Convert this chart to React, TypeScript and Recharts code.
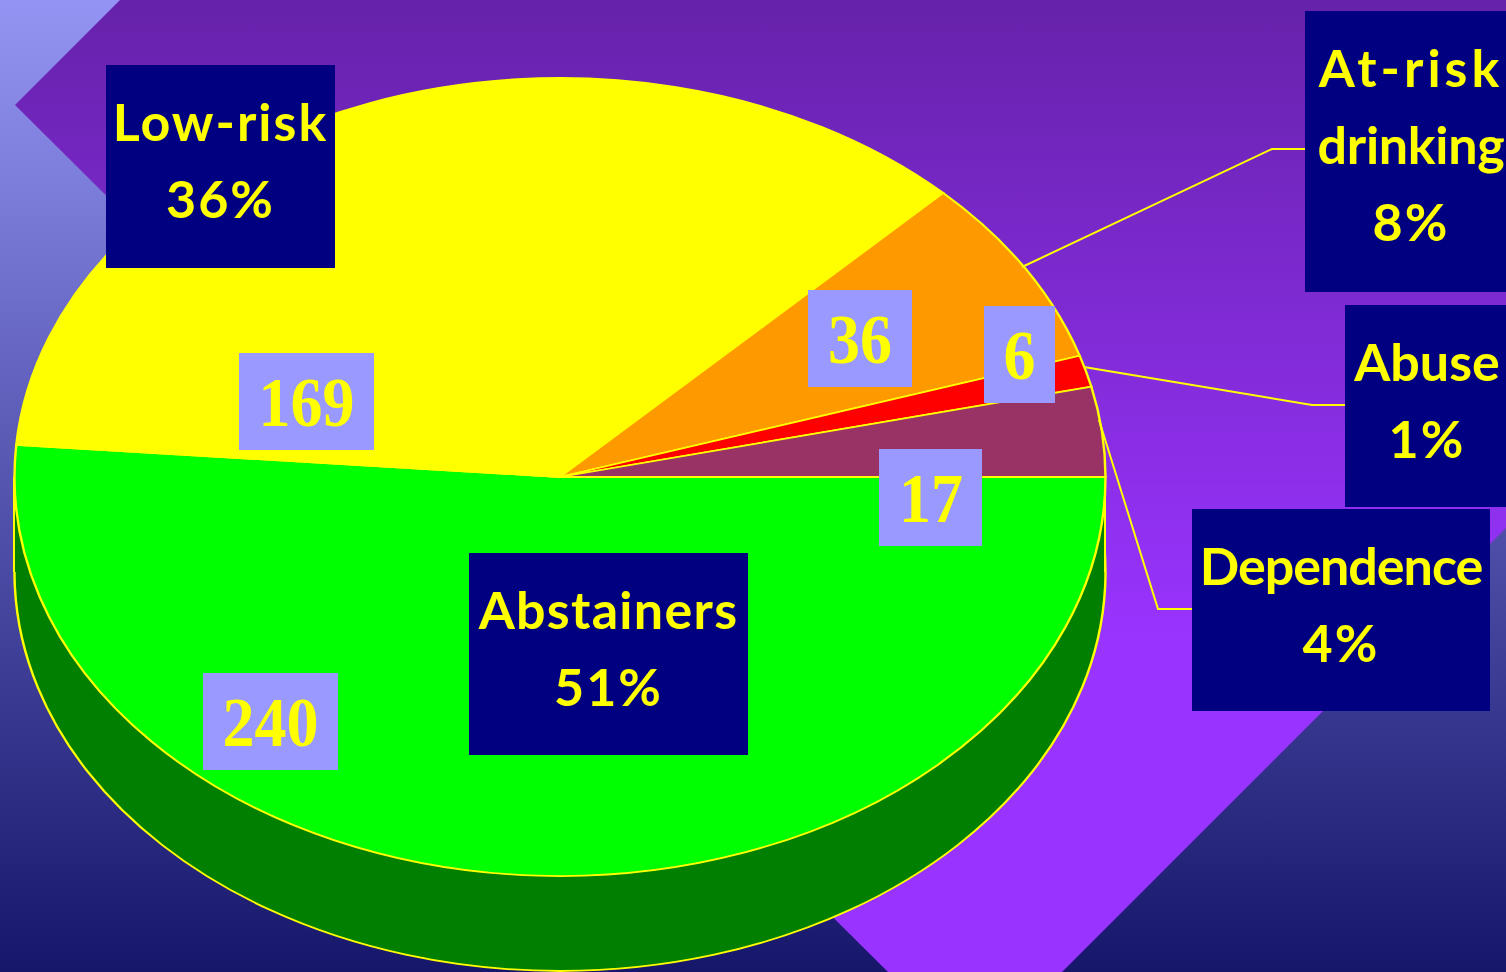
import React from 'react';
import { PieChart, Pie, Cell } from 'recharts';

// slices run clockwise from 3 o'clock
const sliceNames = ['Abstainers', 'Low-risk', 'At-risk', 'Abuse', 'Dependence'];
const sliceCounts = [240, 169, 36, 6, 17];
const sliceColors = ['#00FF00', '#FFFF00', '#FF9900', '#FF0000', '#993366'];
const slicePercents = ['51%', '36%', '8%', '1%', '4%'];

const sliceData = sliceNames.map((name, i) => ({ name, value: sliceCounts[i] }));
const depthData = [{ name: 'depth', value: sliceCounts.reduce((a, b) => a + b, 0) }];

const PIE_X = 559.5;
const PIE_Y = 477;
const RADIUS = 545.5;
const SQUASH = 399 / RADIUS;
const DEPTH = 95;
const CHART_SIZE = 1110;

const labelFont = 'Lato, "Noto Sans", sans-serif';
const countFont = '"Liberation Serif", serif';

const TiltedPie: React.FC<{ offsetY: number; children: React.ReactNode }> = ({ offsetY, children }) => (
  <div
    style={{
      position: 'absolute',
      left: PIE_X - CHART_SIZE / 2,
      top: PIE_Y + offsetY - CHART_SIZE / 2,
      width: CHART_SIZE,
      height: CHART_SIZE,
      transform: `scaleY(${SQUASH})`,
    }}
  >
    {children}
  </div>
);

const NameBox: React.FC<{
  x: number;
  y: number;
  w: number;
  h: number;
  lines: string[];
  spacing: number[];
}> = ({ x, y, w, h, lines, spacing }) => (
  <div
    style={{
      position: 'absolute',
      left: x,
      top: y,
      width: w,
      height: h,
      paddingTop: 18,
      boxSizing: 'border-box',
      background: '#000080',
      color: '#FFFF00',
      fontFamily: labelFont,
      fontWeight: 700,
      fontSize: 52,
      lineHeight: '77px',
      textAlign: 'center',
      whiteSpace: 'nowrap',
    }}
  >
    {lines.map((line, i) => (
      <div key={line} style={{ letterSpacing: spacing[i] }}>
        {line}
      </div>
    ))}
  </div>
);

const CountBox: React.FC<{ x: number; y: number; w: number; value: number }> = ({ x, y, w, value }) => (
  <div
    style={{
      position: 'absolute',
      left: x,
      top: y,
      width: w,
      height: 97,
      background: '#9999FF',
      color: '#FFFF00',
      fontFamily: countFont,
      fontWeight: 700,
      fontSize: 66,
      lineHeight: '97px',
      textAlign: 'center',
    }}
  >
    <span style={{ display: 'inline-block', transform: 'scale(0.97, 1.07)' }}>{value}</span>
  </div>
);

export default function App() {
  return (
    <div
      style={{
        position: 'fixed',
        left: 0,
        top: 0,
        width: 1506,
        height: 972,
        overflow: 'hidden',
        background: 'linear-gradient(to bottom, #9494F4 0%, #16166B 100%)',
      }}
    >
      {/* purple diamond behind the pie */}
      <div
        style={{
          position: 'absolute',
          inset: 0,
          background: 'linear-gradient(to bottom, #6622AA 0px, #9933FF 640px)',
          clipPath: 'polygon(15px 105px, 120px 0, 1506px 0, 1506px 528px, 1062px 972px, 888px 972px)',
        }}
      />

      <TiltedPie offsetY={DEPTH}>
        <PieChart width={CHART_SIZE} height={CHART_SIZE} margin={{ top: 0, right: 0, bottom: 0, left: 0 }}>
          <Pie
            data={depthData}
            dataKey="value"
            cx={CHART_SIZE / 2}
            cy={CHART_SIZE / 2}
            outerRadius={RADIUS}
            startAngle={90}
            endAngle={-270}
            fill="#007F00"
            stroke="#FFFF00"
            strokeWidth={2.4}
            isAnimationActive={false}
          />
        </PieChart>
      </TiltedPie>

      {/* side wall between the top face and the lower rim */}
      <div
        style={{
          position: 'absolute',
          left: PIE_X - RADIUS - 1,
          top: PIE_Y,
          width: RADIUS * 2 + 2,
          height: DEPTH,
          boxSizing: 'border-box',
          background: '#007F00',
          borderLeft: '2px solid #FFFF00',
          borderRight: '2px solid #FFFF00',
        }}
      />

      <TiltedPie offsetY={0}>
        <PieChart width={CHART_SIZE} height={CHART_SIZE} margin={{ top: 0, right: 0, bottom: 0, left: 0 }}>
          <Pie
            data={sliceData}
            dataKey="value"
            cx={CHART_SIZE / 2}
            cy={CHART_SIZE / 2}
            outerRadius={RADIUS}
            startAngle={0}
            endAngle={-360}
            stroke="#FFFF00"
            strokeWidth={2.4}
            isAnimationActive={false}
          >
            {sliceData.map((entry, idx) => (
              <Cell key={entry.name} fill={sliceColors[idx]} />
            ))}
          </Pie>
        </PieChart>
      </TiltedPie>

      {/* leader lines to the outside labels */}
      <svg width={1506} height={972} style={{ position: 'absolute', left: 0, top: 0 }}>
        <g fill="none" stroke="#FFFF00" strokeWidth={2}>
          <polyline points="1022,267 1272,149 1305,149" />
          <polyline points="1084,367 1312,405 1345,405" />
          <polyline points="1099,420 1158,609 1192,609" />
        </g>
      </svg>

      <NameBox x={106} y={65} w={229} h={203} lines={[sliceNames[1], slicePercents[1]]} spacing={[2, 2]} />
      <NameBox x={1305} y={11} w={212} h={281} lines={[sliceNames[2], 'drinking', slicePercents[2]]} spacing={[4, -0.3, 2]} />
      <NameBox x={1345} y={305} w={164} h={202} lines={[sliceNames[3], slicePercents[3]]} spacing={[0, 2]} />
      <NameBox x={1192} y={509} w={298} h={202} lines={[sliceNames[4], slicePercents[4]]} spacing={[-1, 2]} />
      <NameBox x={469} y={553} w={279} h={202} lines={[sliceNames[0], slicePercents[0]]} spacing={[1.3, 2]} />

      <CountBox x={239} y={353} w={135} value={sliceCounts[1]} />
      <CountBox x={808} y={290} w={104} value={sliceCounts[2]} />
      <CountBox x={984} y={306} w={71} value={sliceCounts[3]} />
      <CountBox x={879} y={449} w={103} value={sliceCounts[4]} />
      <CountBox x={203} y={673} w={135} value={sliceCounts[0]} />
    </div>
  );
}
